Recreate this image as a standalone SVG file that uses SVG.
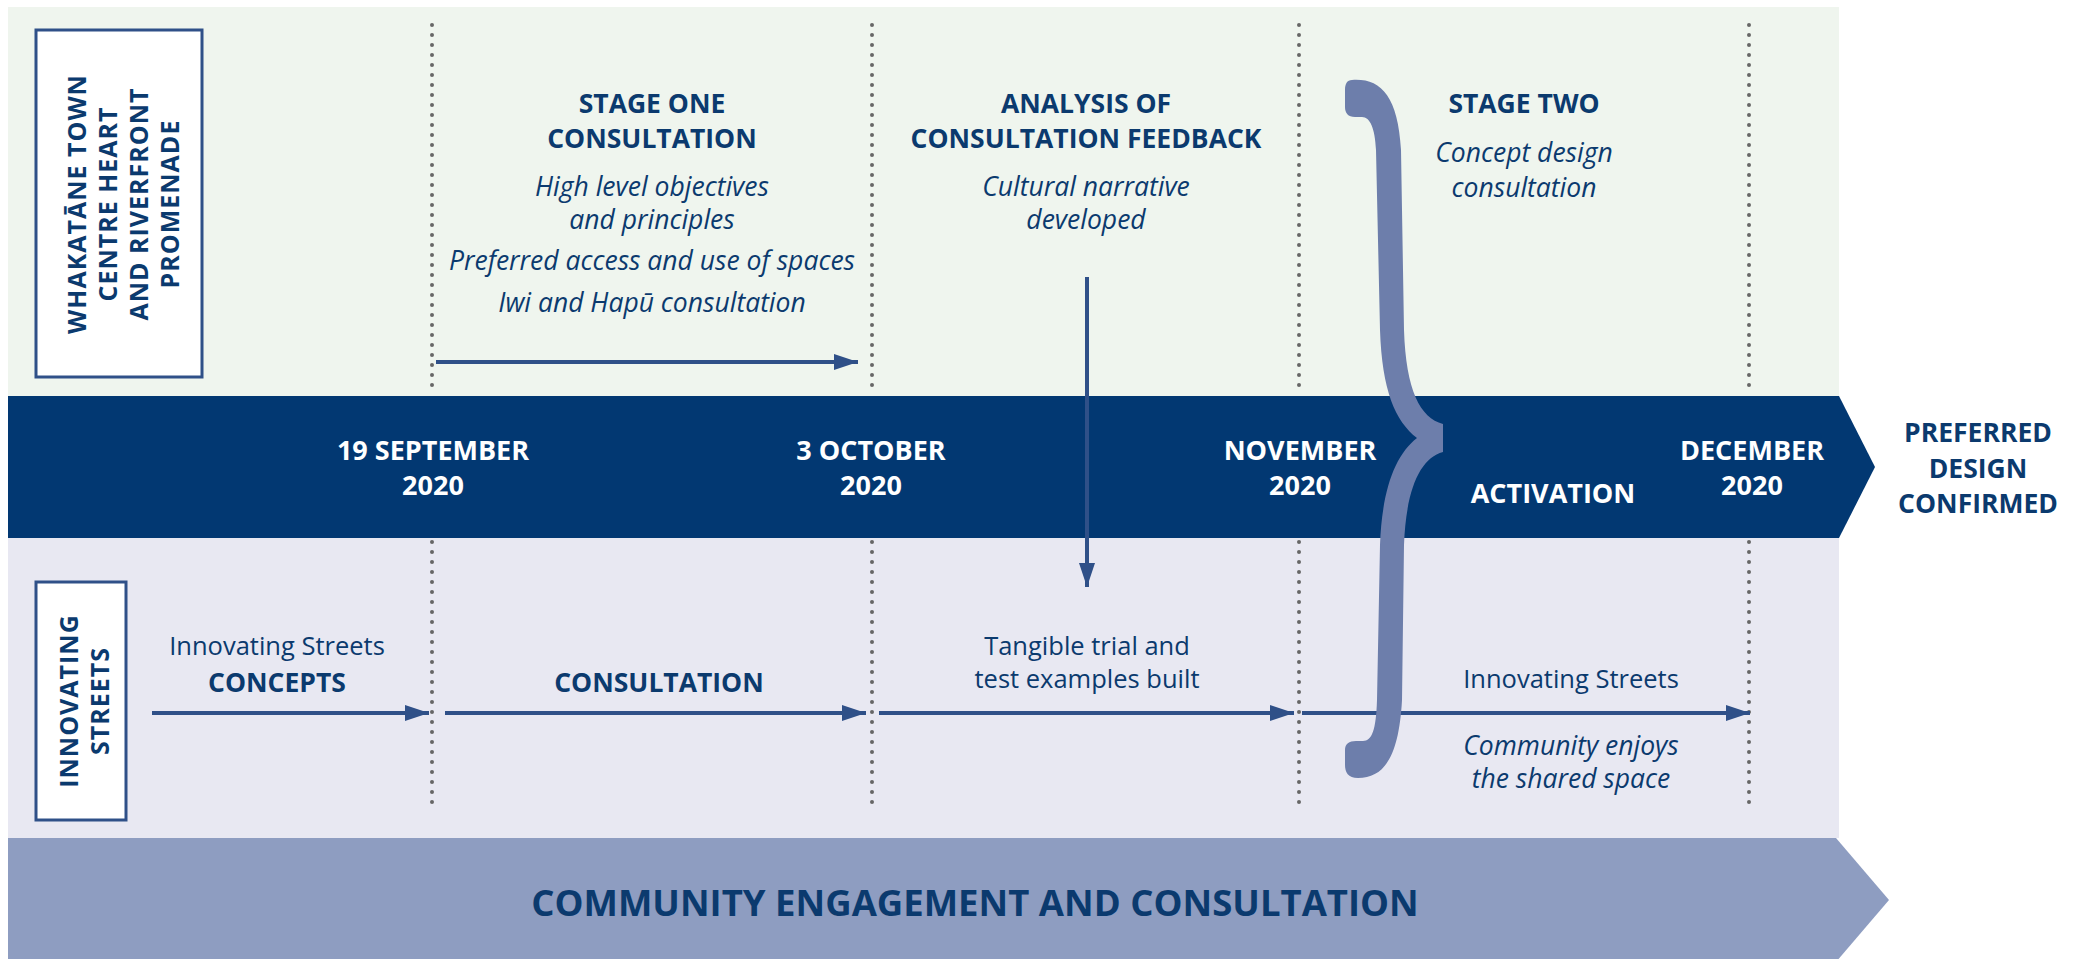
<svg xmlns="http://www.w3.org/2000/svg" width="2078" height="959" viewBox="0 0 2078 959">
<defs>
<style>
.hb{font-family:"Open Sans","Liberation Sans",sans-serif;font-weight:700;fill:#0b3a6e;text-anchor:middle}
.hw{font-family:"Open Sans","Liberation Sans",sans-serif;font-weight:700;fill:#ffffff;text-anchor:middle;font-size:27px}
.it{font-family:"Open Sans","Liberation Sans",sans-serif;font-style:italic;fill:#0b3a6e;text-anchor:middle;font-size:26.5px}
.rg{font-family:"Open Sans","Liberation Sans",sans-serif;fill:#0b3a6e;text-anchor:middle;font-size:25.5px}
.dot{stroke:#666;stroke-width:4;stroke-linecap:round;stroke-dasharray:0 10;fill:none}
.ar{stroke:#2f5088;stroke-width:4;fill:none}
.lab{fill:#fff;stroke:#2f5088;stroke-width:3}
</style>
<marker id="ah" viewBox="0 0 24 16" refX="24" refY="8" markerWidth="24" markerHeight="16" markerUnits="userSpaceOnUse" orient="auto">
<path d="M0 0 L24 8 L0 16 Z" fill="#2f5088"/>
</marker>
</defs>
<rect width="2078" height="959" fill="#fff"/>
<g id="bands">
<rect x="8" y="7" width="1831" height="389" fill="#eff5ee"/>
<rect x="8" y="538" width="1831" height="300" fill="#e8e8f2"/>
<path d="M8 396 H1839 L1875 467 L1839 538 H8 Z" fill="#023872"/>
<path d="M8 838 H1836 L1889 900 L1836 962 H8 Z" fill="#8e9dc1"/>
</g>
<g id="gridlines">
<line class="dot" x1="432" y1="25" x2="432" y2="392"/>
<line class="dot" x1="872" y1="25" x2="872" y2="392"/>
<line class="dot" x1="1299" y1="25" x2="1299" y2="392"/>
<line class="dot" x1="1749" y1="25" x2="1749" y2="392"/>
<line class="dot" x1="432" y1="542" x2="432" y2="810"/>
<line class="dot" x1="872" y1="542" x2="872" y2="810"/>
<line class="dot" x1="1299" y1="542" x2="1299" y2="810"/>
<line class="dot" x1="1749" y1="542" x2="1749" y2="810"/>
</g>
<g id="label-whakatane">
<rect class="lab" x="36" y="30" width="166" height="347"/>
<g transform="translate(0,204) rotate(-90)">
<text class="hb" font-size="25" letter-spacing="1" x="0" y="86">WHAKATĀNE TOWN</text>
<text class="hb" font-size="25" letter-spacing="1" x="0" y="117">CENTRE HEART</text>
<text class="hb" font-size="25" letter-spacing="1" x="0" y="148">AND RIVERFRONT</text>
<text class="hb" font-size="25" letter-spacing="1" x="0" y="179">PROMENADE</text>
</g>
</g>
<g id="label-innovating">
<rect class="lab" x="36" y="582" width="90" height="238"/>
<g transform="translate(0,701) rotate(-90)">
<text class="hb" font-size="25" letter-spacing="1" x="0" y="78">INNOVATING</text>
<text class="hb" font-size="25" letter-spacing="1" x="0" y="109">STREETS</text>
</g>
</g>
<g id="stage-one">
<text class="hb" font-size="26.5" x="652" y="113">STAGE ONE</text>
<text class="hb" font-size="26.5" x="652" y="148">CONSULTATION</text>
<text class="it" x="652" y="196">High level objectives</text>
<text class="it" x="652" y="229">and principles</text>
<text class="it" x="652" y="270">Preferred access and use of spaces</text>
<text class="it" x="652" y="312">Iwi and Hapū consultation</text>
</g>
<g id="analysis">
<text class="hb" font-size="26.5" x="1086" y="113">ANALYSIS OF</text>
<text class="hb" font-size="26.5" x="1086" y="148">CONSULTATION FEEDBACK</text>
<text class="it" x="1086" y="196">Cultural narrative</text>
<text class="it" x="1086" y="229">developed</text>
</g>
<g id="stage-two">
<text class="hb" font-size="26.5" x="1524" y="113">STAGE TWO</text>
<text class="it" x="1524" y="162">Concept design</text>
<text class="it" x="1524" y="197">consultation</text>
</g>
<g id="dates">
<text class="hw" x="433" y="460">19 SEPTEMBER</text>
<text class="hw" x="433" y="495">2020</text>
<text class="hw" x="871" y="460">3 OCTOBER</text>
<text class="hw" x="871" y="495">2020</text>
<text class="hw" x="1300" y="460">NOVEMBER</text>
<text class="hw" x="1300" y="495">2020</text>
<text class="hw" x="1553" y="503">ACTIVATION</text>
<text class="hw" x="1752" y="460">DECEMBER</text>
<text class="hw" x="1752" y="495">2020</text>
</g>
<g id="outcome">
<text class="hb" font-size="26.5" x="1978" y="442">PREFERRED</text>
<text class="hb" font-size="26.5" x="1978" y="478">DESIGN</text>
<text class="hb" font-size="26.5" x="1978" y="513">CONFIRMED</text>
</g>
<g id="innovating-concepts">
<text class="rg" x="277" y="655">Innovating Streets</text>
<text class="hb" font-size="26.5" x="277" y="692">CONCEPTS</text>
</g>
<g id="innovating-consultation">
<text class="hb" font-size="26.5" x="659" y="692">CONSULTATION</text>
</g>
<g id="trial">
<text class="rg" x="1087" y="655">Tangible trial and</text>
<text class="rg" x="1087" y="688">test examples built</text>
</g>
<g id="activation-streets">
<text class="rg" x="1571" y="688">Innovating Streets</text>
<text class="it" x="1571" y="755">Community enjoys</text>
<text class="it" x="1571" y="788">the shared space</text>
</g>
<g id="connectors">
<line class="ar" x1="436" y1="362" x2="858" y2="362" marker-end="url(#ah)"/>
<line class="ar" x1="1087" y1="277" x2="1087" y2="587" marker-end="url(#ah)"/>
<line class="ar" x1="152" y1="713" x2="429" y2="713" marker-end="url(#ah)"/>
<line class="ar" x1="445" y1="713" x2="866" y2="713" marker-end="url(#ah)"/>
<line class="ar" x1="879" y1="713" x2="1294" y2="713" marker-end="url(#ah)"/>
<line class="ar" x1="1302" y1="713" x2="1750" y2="713" marker-end="url(#ah)"/>
</g>
<g id="brace">
<path fill="#6d7eab" d="M1352 80 C1380 78 1398 95 1401 150 L1404 330 C1406 390 1420 418 1443 424 L1443 452 C1420 458 1406 490 1404 545 L1402 700 C1399 755 1385 778 1358 778 C1348 778 1345 772 1345 765 L1345 750 C1345 744 1349 741 1356 741 L1363 741 C1372 741 1376 730 1377 700 L1380 545 C1382 490 1395 455 1417 438 C1395 421 1382 390 1380 330 L1376 150 C1375 128 1370 117 1362 117 L1355 117 C1348 117 1345 113 1345 107 L1345 90 C1345 84 1347 80 1352 80 Z"/>
</g>
<g id="engagement">
<text class="hb" font-size="36.5" x="975" y="916">COMMUNITY ENGAGEMENT AND CONSULTATION</text>
</g>
</svg>
